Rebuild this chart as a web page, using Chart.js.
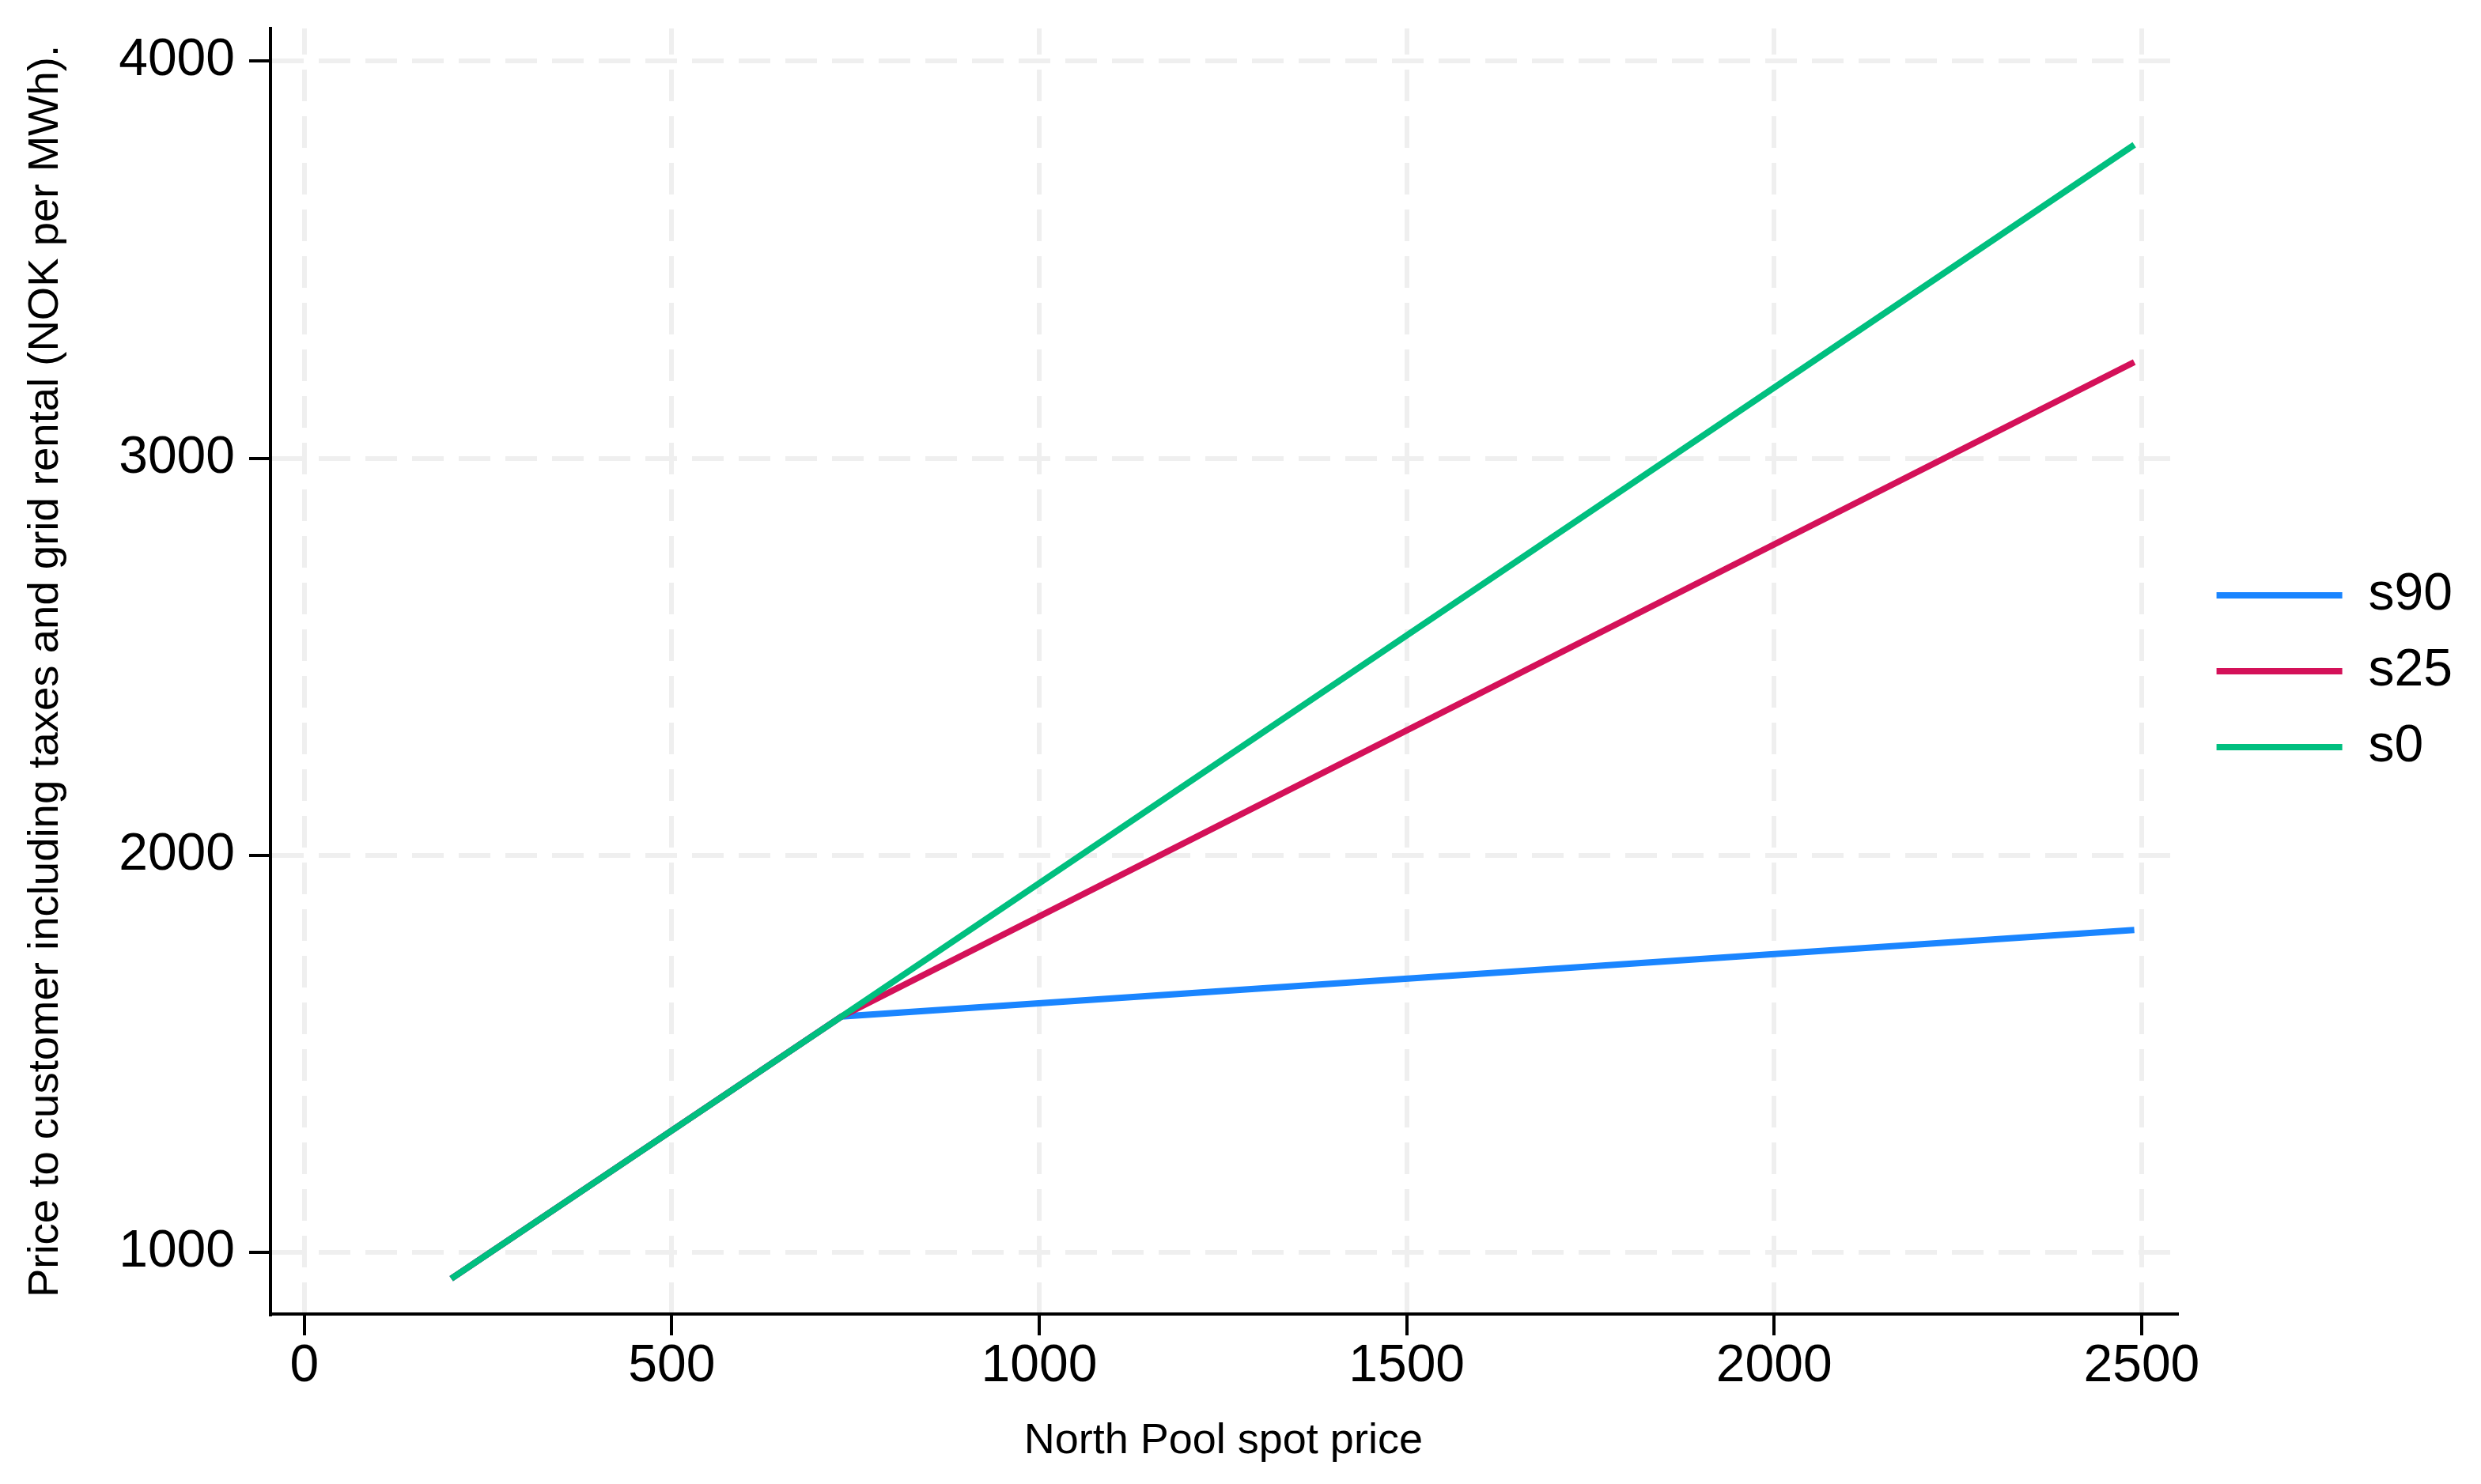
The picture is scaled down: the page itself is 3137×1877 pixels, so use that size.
<!DOCTYPE html>
<html>
<head>
<meta charset="utf-8">
<title>Price to customer vs North Pool spot price</title>
<script src="https://cdn.jsdelivr.net/npm/chart.js@4.4.0/dist/chart.umd.min.js"></script>
<style>
  html, body { margin: 0; padding: 0; background: #fff; }
  #wrap { width: 3137px; height: 1877px; }
</style>
</head>
<body>
<div id="wrap"><canvas id="priceChart" width="3137" height="1877"></canvas></div>
<script>
// Spot price where the lines start, bend and end
const spotPrice = [200, 731, 2490];

// Customer price for each support level
const s90 = [934, 1594, 1812];
const s25 = [934, 1594, 3242];
const s0 = [934, 1594, 3789];

const seriesNames = ["s90", "s25", "s0"];
const seriesColors = ["#1a85ff", "#d41159", "#00bf7f"];

const xTicks = [0, 500, 1000, 1500, 2000, 2500];
const yTicks = [1000, 2000, 3000, 4000];

const fontFamily = "'Liberation Sans', Arial, Helvetica, sans-serif";

function points(values) {
    return spotPrice.map(function (x, i) {
        return {x: x, y: values[i]};
    });
}

// s0 is drawn last so it lies on top where the lines overlap
var datasets = [s90, s25, s0].map(function (values, i) {
    return {
        label: seriesNames[i],
        data: points(values),
        borderColor: seriesColors[i],
        backgroundColor: seriesColors[i],
        borderWidth: 8,
        pointRadius: 0,
        tension: 0,
        order: 3 - i
    };
});

// Stata puts the legend a bit further from the plot region
var legendNudge = {
    id: 'legendNudge',
    afterLayout: function (chart) {
        chart.legend.left += 21;
        chart.legend.right += 21;
    }
};

var axisGrid = {
    color: '#efefef',
    lineWidth: 6,
    tickLength: 27,
    tickColor: '#000',
    tickWidth: 4,
    tickBorderDash: []
};

// no extra room for half tick labels at the ends of the axes
function noEdgePadding(scale) {
    scale.paddingTop = 0;
    scale.paddingBottom = 0;
    scale.paddingLeft = 0;
    scale.paddingRight = 0;
}

var ctx = document.getElementById('priceChart').getContext('2d');
var priceChart = new Chart(ctx, {
    type: 'line',
    data: {datasets: datasets},
    plugins: [legendNudge],
    options: {
        responsive: false,
        animation: false,
        devicePixelRatio: 1,
        layout: {padding: {top: 36, right: 47, bottom: 0, left: 0}},
        plugins: {
            legend: {
                position: 'right',
                fullSize: false,
                align: 'center',
                labels: {
                    usePointStyle: true,
                    pointStyle: 'line',
                    pointStyleWidth: 159,
                    padding: 30,
                    color: '#000',
                    font: {family: fontFamily, size: 66},
                    sort: function (a, b) { return a.datasetIndex - b.datasetIndex; }
                }
            },
            tooltip: {enabled: false}
        },
        scales: {
            x: {
                type: 'linear',
                min: -46,
                max: 2547,
                afterBuildTicks: function (scale) {
                    scale.ticks = xTicks.map(function (v) { return {value: v}; });
                },
                afterFit: function (scale) {
                    scale.height = 215;
                    noEdgePadding(scale);
                },
                ticks: {
                    padding: 0,
                    color: '#000',
                    font: {family: fontFamily, size: 66},
                    callback: function (v) { return String(v); }
                },
                grid: axisGrid,
                border: {color: '#000', width: 4, dash: [40, 19], dashOffset: 7},
                title: {
                    display: true,
                    text: 'North Pool spot price',
                    color: '#000',
                    font: {family: fontFamily, size: 54},
                    padding: {top: 0, bottom: 21}
                }
            },
            y: {
                type: 'linear',
                min: 845,
                max: 4082,
                afterBuildTicks: function (scale) {
                    scale.ticks = yTicks.map(function (v) { return {value: v}; });
                },
                afterFit: function (scale) {
                    scale.width = 342;
                    noEdgePadding(scale);
                },
                ticks: {
                    padding: 18,
                    color: '#000',
                    font: {family: fontFamily, size: 66},
                    callback: function (v) { return String(v); }
                },
                grid: axisGrid,
                border: {color: '#000', width: 4, dash: [40, 19], dashOffset: 0},
                title: {
                    display: true,
                    text: 'Price to customer including taxes and grid rental (NOK per MWh).',
                    color: '#000',
                    font: {family: fontFamily, size: 54.5},
                    padding: {top: 25, bottom: 0}
                }
            }
        }
    }
});
</script>
</body>
</html>
